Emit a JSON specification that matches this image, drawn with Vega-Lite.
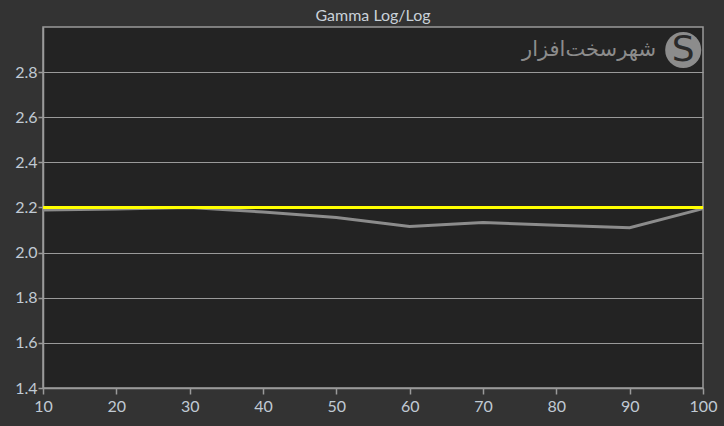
{
  "$schema": "https://vega.github.io/schema/vega-lite/v6.json",
  "width": 660,
  "height": 361,
  "autosize": {"type": "none"},
  "padding": {"left": 43, "top": 27, "right": 21, "bottom": 38},
  "background": "#333333",
  "title": {
    "text": "Gamma Log/Log",
    "color": "#c9d1d9",
    "font": "Lato, sans-serif",
    "fontSize": 16,
    "fontWeight": "normal",
    "anchor": "middle",
    "offset": 3
  },
  "config": {
    "view": {"fill": "#232323", "stroke": "#9a9a9a", "strokeWidth": 1.5},
    "axis": {
      "labelFont": "Lato, sans-serif",
      "labelFontSize": 16,
      "labelColor": "#c0cad4",
      "domainColor": "#9a9a9a",
      "tickColor": "#9a9a9a",
      "gridColor": "#9a9a9a",
      "gridOpacity": 1,
      "domainWidth": 1.5,
      "tickWidth": 1.5,
      "title": null
    }
  },
  "datasets": {
    "gamma": [
      {"x": 10, "y": 2.189, "series": "Measured"},
      {"x": 20, "y": 2.193, "series": "Measured"},
      {"x": 30, "y": 2.2, "series": "Measured"},
      {"x": 40, "y": 2.18, "series": "Measured"},
      {"x": 50, "y": 2.156, "series": "Measured"},
      {"x": 60, "y": 2.116, "series": "Measured"},
      {"x": 70, "y": 2.133, "series": "Measured"},
      {"x": 80, "y": 2.121, "series": "Measured"},
      {"x": 90, "y": 2.11, "series": "Measured"},
      {"x": 100, "y": 2.195, "series": "Measured"},
      {"x": 10, "y": 2.2, "series": "Target"},
      {"x": 100, "y": 2.2, "series": "Target"}
    ],
    "mark": [
      {"label": "شهرسخت‌افزار"}
    ]
  },
  "layer": [
    {
      "data": {"name": "mark"},
      "mark": {"type": "point", "filled": true, "size": 1300, "color": "#8c8c8c", "opacity": 1},
      "encoding": {
        "x": {"datum": 97.3, "type": "quantitative"},
        "y": {"datum": 2.898, "type": "quantitative"}
      }
    },
    {
      "data": {"name": "mark"},
      "mark": {"type": "text", "text": "S", "fontSize": 36, "font": "DejaVu Sans", "color": "#2a2a2a", "baseline": "middle", "align": "center"},
      "encoding": {
        "x": {"datum": 97.3, "type": "quantitative"},
        "y": {"datum": 2.898, "type": "quantitative"}
      }
    },
    {
      "data": {"name": "mark"},
      "mark": {"type": "text", "fontSize": 21, "font": "Noto Sans, DejaVu Sans", "color": "#8c8c8c", "align": "right", "baseline": "middle"},
      "encoding": {
        "x": {"datum": 93.6, "type": "quantitative"},
        "y": {"datum": 2.9, "type": "quantitative"},
        "text": {"field": "label"}
      }
    },
    {
      "data": {"name": "gamma"},
      "mark": {"type": "line", "strokeWidth": 3},
      "encoding": {
        "x": {
          "field": "x", "type": "quantitative",
          "scale": {"domain": [10, 100], "nice": false, "zero": false},
          "axis": {"values": [10, 20, 30, 40, 50, 60, 70, 80, 90, 100], "grid": false, "labelFlush": false, "labelOverlap": false, "tickSize": 6, "labelPadding": 4}
        },
        "y": {
          "field": "y", "type": "quantitative",
          "scale": {"domain": [1.4, 3.0], "nice": false, "zero": false},
          "axis": {"values": [1.4, 1.6, 1.8, 2.0, 2.2, 2.4, 2.6, 2.8], "grid": true, "tickSize": 5, "labelPadding": 1, "labelFlush": false, "labelOverlap": false}
        },
        "color": {
          "field": "series", "type": "nominal",
          "scale": {"domain": ["Measured", "Target"], "range": ["#8c8c8c", "#ffff00"]},
          "legend": null
        },
        "order": {"field": "x"}
      }
    }
  ]
}
